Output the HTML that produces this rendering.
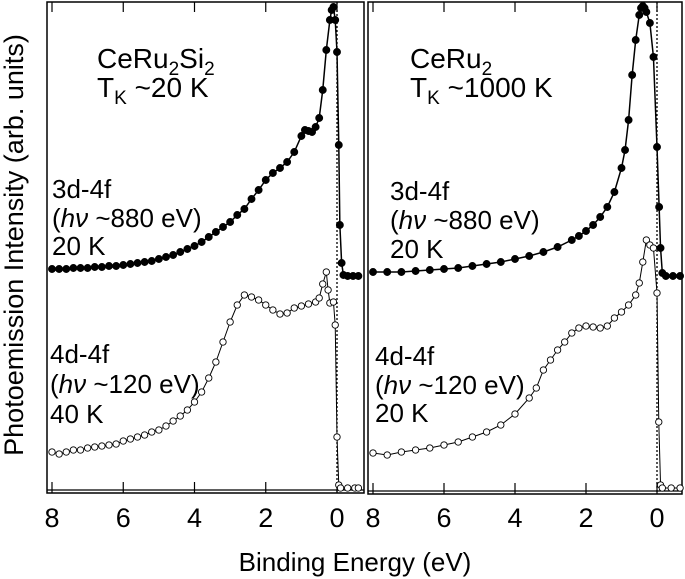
<!DOCTYPE html>
<html><head><meta charset="utf-8"><style>
body{margin:0;background:#fff;}
svg{display:block;font-family:"Liberation Sans",sans-serif;}
</style></head><body>
<svg id="chart" width="685" height="579" viewBox="0 0 685 579">
<g id="frames"></g>
<g id="marks"></g>
<g id="labels" font-size="26" fill="#000">
<text x="14" y="245" font-size="27" text-anchor="middle" dominant-baseline="central" transform="rotate(-90 14 245)">Photoemission Intensity (arb. units)</text>
<text x="355" y="571" font-size="26" text-anchor="middle">Binding Energy (eV)</text>
<text x="97" y="68" font-size="28">CeRu<tspan font-size="19" dy="7">2</tspan><tspan dy="-7">Si</tspan><tspan font-size="19" dy="7">2</tspan></text>
<text x="97" y="97" font-size="28">T<tspan font-size="19" dy="7">K</tspan><tspan dy="-7"> ~20 K</tspan></text>
<text x="52" y="198">3d-4f</text>
<text x="52" y="227">(<tspan font-style="italic">hν</tspan> ~880 eV)</text>
<text x="52" y="255">20 K</text>
<text x="50" y="363">4d-4f</text>
<text x="50" y="393">(<tspan font-style="italic">hν</tspan> ~120 eV)</text>
<text x="50" y="423">40 K</text>
<text x="410" y="68" font-size="28">CeRu<tspan font-size="19" dy="7">2</tspan></text>
<text x="410" y="97" font-size="28">T<tspan font-size="19" dy="7">K</tspan><tspan dy="-7"> ~1000 K</tspan></text>
<text x="390" y="200">3d-4f</text>
<text x="390" y="229">(<tspan font-style="italic">hν</tspan> ~880 eV)</text>
<text x="390" y="258">20 K</text>
<text x="375" y="365">4d-4f</text>
<text x="375" y="394">(<tspan font-style="italic">hν</tspan> ~120 eV)</text>
<text x="375" y="422">20 K</text>
</g>
</svg>
<script>
// Binding energies (eV) and intensities (arb. units)
const leftFilledE=[8,7.8,7.6,7.4,7.2,7,6.8,6.6,6.4,6.2,6,5.8,5.6,5.4,5.2,5,4.8,4.6,4.4,4.2,4,3.8,3.6,3.4,3.2,3,2.8,2.6,2.4,2.2,2,1.8,1.6,1.4,1.2,1,0.9,0.8,0.7,0.6,0.5,0.4,0.3,0.2,0.15,0.1,0.05,0,-0.05,-0.08,-0.13,-0.18,-0.3,-0.45,-0.6];
const leftFilledI=[224,224,224,225,225,225,226,226,227,227,228,229,230,231,232,234,236,238,241,244,247,251,256,261,266,271,278,284,294,303,313,320,325,331,341,357,363,362,361,366,375,403,443,473,483,486,473,441,348,268,230,218,217,217,217];
const leftOpenE=[8,7.8,7.6,7.4,7.2,7,6.8,6.6,6.4,6.2,6,5.8,5.6,5.4,5.2,5,4.8,4.6,4.4,4.2,4,3.8,3.6,3.4,3.2,3,2.8,2.6,2.4,2.2,2,1.8,1.6,1.4,1.2,1,0.8,0.6,0.5,0.4,0.3,0.25,0.2,0.1,0.05,0,-0.05,-0.1,-0.3,-0.5,-0.6];
const leftOpenI=[41,39,41,43,43,45,46,47,48,49,52,54,56,58,61,63,67,72,77,83,91,101,115,131,151,171,188,198,196,193,188,183,179,180,185,187,189,191,195,209,221,203,190,191,168,56,8,5,5,5,5];
const rightFilledE=[8,7.6,7.2,6.8,6.4,6,5.6,5.2,4.8,4.4,4,3.6,3.2,2.8,2.4,2.2,2,1.8,1.6,1.4,1.2,1,0.9,0.8,0.7,0.6,0.5,0.45,0.4,0.35,0.3,0.2,0.1,0,-0.06,-0.1,-0.15,-0.25,-0.45,-0.65];
const rightFilledI=[221,221,221,222,223,224,225,227,229,231,234,237,241,246,253,257,262,268,276,286,301,325,343,373,418,453,478,485,487,485,481,470,436,346,286,245,220,217,217,217];
const rightOpenE=[8,7.6,7.2,6.8,6.4,6,5.6,5.2,4.8,4.4,4,3.6,3.4,3.2,3,2.8,2.6,2.4,2.2,2,1.8,1.6,1.4,1.2,1,0.8,0.6,0.5,0.4,0.3,0.2,0.1,0,-0.05,-0.1,-0.15,-0.4,-0.65];
const rightOpenI=[40,38,41,43,45,48,51,56,61,68,79,95,105,123,133,143,151,160,165,167,166,165,167,175,181,188,198,210,231,253,248,245,200,71,8,5,5,5];
const tickValues=[8,6,4,2,0];
const tickLabels=["8","6","4","2","0"];

const NS="http://www.w3.org/2000/svg";
const panels=[
 {x0:52,x1:337,left:47,right:364,top:2,bottom:493,axisY:490,series:[[leftFilledE,leftFilledI,true],[leftOpenE,leftOpenI,false]]},
 {x0:373,x1:657,left:368,right:682,top:2,bottom:494,axisY:491,series:[[rightFilledE,rightFilledI,true],[rightOpenE,rightOpenI,false]]}
];
function mk(tag,attrs,parent){const e=document.createElementNS(NS,tag);for(const k in attrs)e.setAttribute(k,attrs[k]);parent.appendChild(e);return e;}
const yScale=v=>493-v;
const frames=document.getElementById('frames'),marks=document.getElementById('marks'),labels=document.getElementById('labels');
panels.forEach((p,pi)=>{
 const xScale=E=>p.x1-(E/8)*(p.x1-p.x0);
 const side=pi===0?'left':'right';
 const fr=mk('rect',{x:p.left,y:p.top,width:p.right-p.left,height:p.bottom-p.top,fill:'none',stroke:'#000','stroke-width':1.5},frames);
 
 
 const ax=mk('line',{x1:p.left,x2:p.right,y1:p.axisY,y2:p.axisY,stroke:'#000','stroke-width':1.2},frames);
 
 
 const zl=mk('line',{x1:xScale(0),x2:xScale(0),y1:p.top,y2:p.bottom,stroke:'#000','stroke-width':1.3,'stroke-dasharray':'2,2'},frames);
 
 
 tickValues.forEach((t,i)=>{
  const x=xScale(t);
  const a=mk('line',{x1:x,x2:x,y1:p.top,y2:p.top+10,stroke:'#000','stroke-width':1.2},frames);
  
  
  const b=mk('line',{x1:x,x2:x,y1:p.axisY-8,y2:p.axisY+3,stroke:'#000','stroke-width':1.2},frames);
  
  
  const tl=mk('text',{x:x,y:527,'font-size':27,'text-anchor':'middle'},labels);
  tl.textContent=tickLabels[i];
  
  
 });
 p.series.forEach(([E,I,filled],si)=>{
  const pts=E.map((e,i)=>xScale(e)+','+yScale(I[i])).join(' ');
  const pl=mk('polyline',{points:pts,fill:'none',stroke:'#000','stroke-width':filled?1.5:1},marks);
  
  
  E.forEach((e,i)=>{
   const c=mk('circle',{cx:xScale(e),cy:yScale(I[i]),r:filled?3.5:3.2,fill:filled?'#000':'#fff',stroke:'#000','stroke-width':0.9},marks);
   
   
  });
 });
});
</script>
</body></html>
